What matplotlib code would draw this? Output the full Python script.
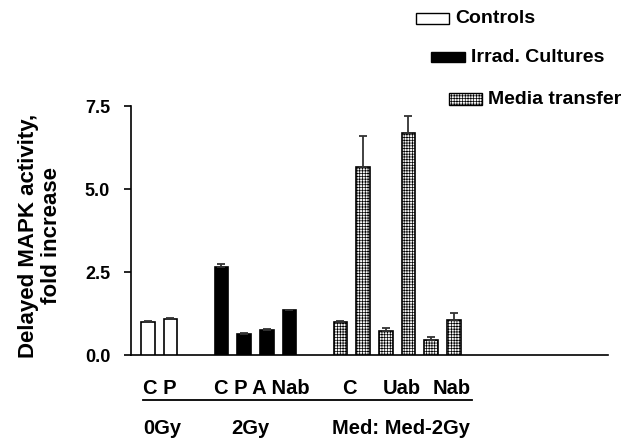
import numpy as np
import matplotlib
matplotlib.use("Agg")
import matplotlib.pyplot as plt
from matplotlib.patches import Rectangle
from matplotlib.lines import Line2D

plt.rcParams['font.family'] = ['Liberation Sans', 'DejaVu Sans']
plt.rcParams['font.weight'] = 'bold'
plt.rcParams['hatch.color'] = '#ababab'
plt.rcParams['hatch.linewidth'] = 0.5

# data
ctrl_pos = [0, 1]
ctrl_val = [1.00, 1.07]
ctrl_err = [0.02, 0.05]

irrad_pos = [3.25, 4.25, 5.25, 6.25]
irrad_val = [2.66, 0.63, 0.76, 1.35]
irrad_err = [0.08, 0.02, 0.03, 0.02]

media_pos = [8.5, 9.5, 10.5, 11.5, 12.5, 13.5]
media_val = [1.00, 5.67, 0.72, 6.70, 0.45, 1.05]
media_err = [0.03, 0.92, 0.08, 0.50, 0.08, 0.21]

legend_names = ['Controls', 'Irrad. Cultures', 'Media transfer']
yticks = [0.0, 2.5, 5.0, 7.5]

W, H = 632, 440
fig = plt.figure(figsize=(W / 100, H / 100), dpi=100)

def fx(x):
    return x / W

def fy(y):
    return 1 - y / H

ax = fig.add_axes([fx(131), fy(355), fx(608) - fx(131), fy(106) - fy(355)])

bw = 0.6
ekw = dict(ecolor='#333333', elinewidth=1.3, capsize=3, capthick=1.3)
ax.bar(ctrl_pos, ctrl_val, bw, color='white', edgecolor='black', linewidth=1.2,
       yerr=[np.zeros(len(ctrl_err)), ctrl_err], error_kw=ekw, zorder=3)
ax.bar(irrad_pos, irrad_val, bw, color='black', edgecolor='black', linewidth=1.2,
       yerr=[np.zeros(len(irrad_err)), irrad_err], error_kw=ekw, zorder=3)
ax.bar(media_pos, media_val, bw, color='#f6f6f6', edgecolor='black', linewidth=1.2,
       hatch='++++++', yerr=[np.zeros(len(media_err)), media_err], error_kw=ekw, zorder=3)

ax.set_xlim(-0.74, 20.3)
ax.set_ylim(0, 7.5)
ax.set_yticks(yticks)
ax.set_yticklabels(['%.1f' % t for t in yticks], fontsize=13, fontweight='bold')
ax.set_xticks([])
ax.spines['top'].set_visible(False)
ax.spines['right'].set_visible(False)
ax.spines['left'].set_linewidth(1.2)
ax.spines['bottom'].set_linewidth(1.2)
ax.tick_params(axis='y', length=5, width=1.2, pad=10)
ax.set_ylabel('Delayed MAPK activity,\nfold increase', fontsize=16,
              fontweight='bold', linespacing=1.1)
ax.yaxis.set_label_coords((62 - 131) / 477, 0.48)

# staggered legend at top right
leg_boxes = [(416, 13, 33, 11, 'white'), (431, 52, 34, 10, 'black'), (449, 93, 33, 12, '#f6f6f6')]
for (x0, y0, w, h, fc), name in zip(leg_boxes, legend_names):
    r = Rectangle((fx(x0), fy(y0 + h)), fx(w), h / H, transform=fig.transFigure,
                  facecolor=fc, edgecolor='black', linewidth=1.0,
                  hatch='++++++' if name == 'Media transfer' else None)
    fig.patches.append(r)
    fig.text(fx(x0 + w + 6), fy(y0 + h / 2), name, fontsize=14, fontweight='bold',
             va='center', ha='left')

# treatment labels under the bars
fs = 14.5
fig.text(fx(143), fy(389), 'C P', fontsize=fs, va='center', ha='left')
fig.text(fx(214), fy(389), 'C P A Nab', fontsize=fs, va='center', ha='left')
for xc, s in [(349, 'C'), (401.5, 'Uab'), (451.5, 'Nab')]:
    fig.text(fx(xc), fy(389), s, fontsize=fs, va='center', ha='center')
fig.add_artist(Line2D([fx(143), fx(472)], [fy(400), fy(400)], color='black',
                      linewidth=1.3, transform=fig.transFigure))
fig.text(fx(143), fy(428), '0Gy', fontsize=fs, va='center', ha='left')
fig.text(fx(231), fy(428), '2Gy', fontsize=fs, va='center', ha='left')
fig.text(fx(332), fy(428), 'Med: Med-2Gy', fontsize=fs, va='center', ha='left')

fig.savefig('out.png', dpi=100)
